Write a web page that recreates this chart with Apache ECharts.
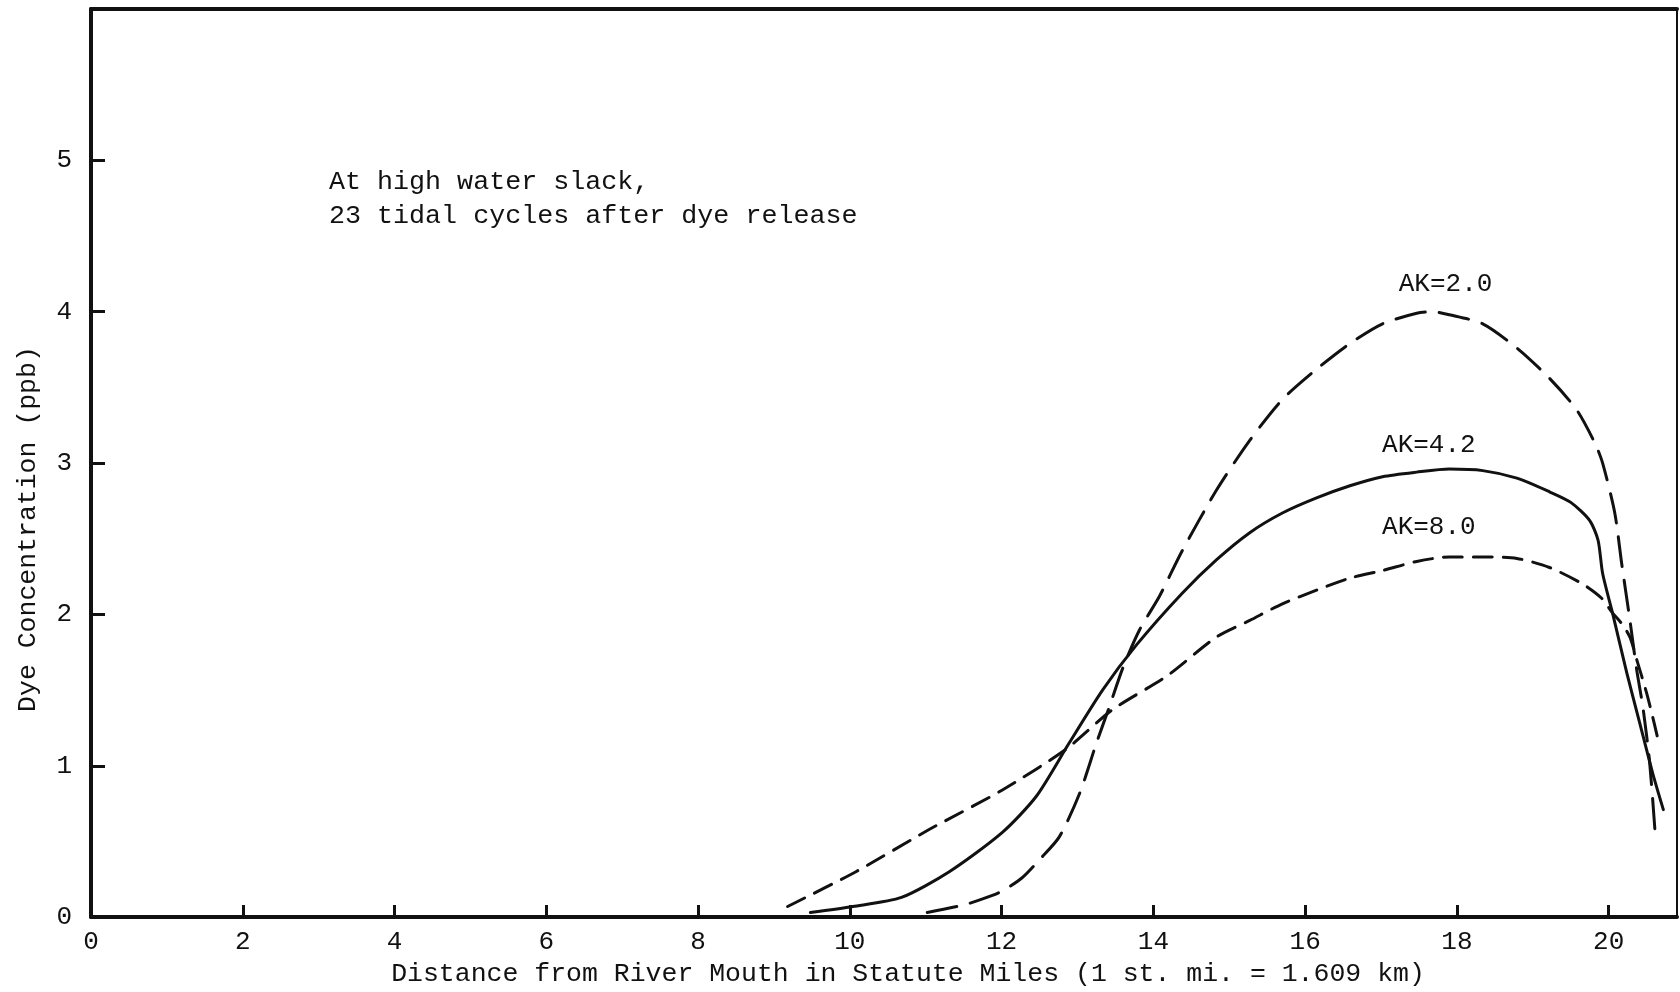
<!DOCTYPE html>
<html>
<head>
<meta charset="utf-8">
<script src="https://cdn.jsdelivr.net/npm/echarts@6/dist/echarts.min.js"></script>
<style>
  html, body { margin: 0; padding: 0; background: #ffffff; }
  #chart { width: 1680px; height: 992px; }
</style>
</head>
<body>
<div id="chart"></div>
<script>
// Distance along the river (statute miles) vs. dye concentration (ppb)
const xTickValues = [2, 4, 6, 8, 10, 12, 14, 16, 18, 20];
const xLabelValues = [0, 2, 4, 6, 8, 10, 12, 14, 16, 18, 20];
const yTickValues = [1, 2, 3, 4, 5];
const yLabelValues = [0, 1, 2, 3, 4, 5];

const seriesNames = ['AK=2.0', 'AK=4.2', 'AK=8.0'];

// AK = 2.0
const ak20 = [
  [11.02, 0.03], [11.5, 0.08], [11.75, 0.12], [12.0, 0.17], [12.27, 0.26],
  [12.5, 0.38], [12.76, 0.53], [13.03, 0.82], [13.25, 1.15], [13.42, 1.39],
  [13.6, 1.65], [13.82, 1.9], [14.08, 2.12], [14.38, 2.42], [14.83, 2.82],
  [15.27, 3.15], [15.7, 3.42], [16.15, 3.62], [16.59, 3.79], [17.02, 3.92],
  [17.47, 3.99], [17.68, 4.0], [17.9, 3.98], [18.34, 3.92], [18.79, 3.76],
  [19.22, 3.56], [19.58, 3.35], [19.82, 3.13], [19.92, 3.0], [20.08, 2.67],
  [20.17, 2.34], [20.28, 1.96], [20.37, 1.63], [20.45, 1.39], [20.54, 1.02],
  [20.62, 0.5]
];

// AK = 4.2
const ak42 = [
  [9.48, 0.03], [10.04, 0.07], [10.68, 0.13], [11.31, 0.3], [12.01, 0.56],
  [12.46, 0.8], [12.89, 1.15], [13.33, 1.5], [13.78, 1.8], [14.38, 2.14],
  [14.83, 2.36], [15.27, 2.54], [15.7, 2.67], [16.15, 2.77], [16.59, 2.85],
  [17.02, 2.91], [17.47, 2.94], [17.9, 2.96], [18.34, 2.95], [18.79, 2.9],
  [19.22, 2.81], [19.5, 2.74], [19.75, 2.62], [19.86, 2.49], [19.92, 2.27],
  [20.05, 2.01], [20.24, 1.61], [20.41, 1.28], [20.58, 0.95], [20.72, 0.71]
];

// AK = 8.0
const ak80 = [
  [9.18, 0.07], [10.08, 0.3], [11.05, 0.58], [12.01, 0.84], [12.85, 1.11],
  [13.46, 1.37], [14.17, 1.59], [14.83, 1.85], [15.27, 1.96], [15.7, 2.07],
  [16.15, 2.16], [16.59, 2.24], [17.02, 2.29], [17.47, 2.35], [17.9, 2.38],
  [18.34, 2.38], [18.79, 2.37], [19.22, 2.31], [19.66, 2.2], [19.9, 2.11],
  [20.05, 2.01], [20.17, 1.94], [20.28, 1.85], [20.37, 1.7], [20.5, 1.48],
  [20.6, 1.28], [20.67, 1.13]
];

const ink = '#111111';
const mono = '"Liberation Mono", "DejaVu Sans Mono", monospace';

const chart = echarts.init(document.getElementById('chart'), null, { renderer: 'canvas' });

function curve(name, data, dash) {
  return {
    name: name,
    type: 'line',
    data: data,
    showSymbol: false,
    smooth: 0.25,
    silent: true,
    lineStyle: { color: ink, width: 3, type: dash, cap: 'round', join: 'round' },
    z: 3
  };
}

chart.setOption({
  animation: false,
  backgroundColor: '#ffffff',
  textStyle: { fontFamily: mono, color: ink },
  grid: {
    left: 91, right: 3, top: 9, bottom: 73,
    show: true, borderColor: ink, borderWidth: 2, backgroundColor: 'transparent'
  },
  xAxis: [
    {
      type: 'value', min: 0, max: 20.9, interval: 2,
      name: 'Distance from River Mouth in Statute Miles (1 st. mi. = 1.609 km)',
      nameLocation: 'middle', nameGap: 39,
      nameTextStyle: { fontFamily: mono, fontSize: 26.5, color: ink, padding: [0, 0, 0, 48] },
      axisLine: { show: true, onZero: false, lineStyle: { color: ink, width: 4 } },
      axisTick: { show: true, inside: true, length: 12, customValues: xTickValues,
                  lineStyle: { color: ink, width: 3 } },
      axisLabel: { show: true, customValues: xLabelValues, fontFamily: mono,
                   fontSize: 26, color: ink, margin: 12 },
      splitLine: { show: false }
    },
    {
      type: 'value', min: 0, max: 20.9, position: 'top',
      axisLine: { show: true, onZero: false, lineStyle: { color: ink, width: 4 } },
      axisTick: { show: false }, axisLabel: { show: false }, splitLine: { show: false }
    }
  ],
  yAxis: {
    type: 'value', min: 0, max: 6, interval: 1,
    name: 'Dye Concentration (ppb)',
    nameLocation: 'middle', nameGap: 50, nameRotate: 90,
    nameTextStyle: { fontFamily: mono, fontSize: 26.5, color: ink, padding: [0, 132, 0, 0] },
    axisLine: { show: true, onZero: false, lineStyle: { color: ink, width: 4 } },
    axisTick: { show: true, inside: true, length: 14, customValues: yTickValues,
                lineStyle: { color: ink, width: 3 } },
    axisLabel: { show: true, customValues: yLabelValues, fontFamily: mono,
                 fontSize: 26, color: ink, margin: 19 },
    splitLine: { show: false }
  },
  series: [
    curve(seriesNames[0], ak20, [30, 14]),
    curve(seriesNames[1], ak42, 'solid'),
    curve(seriesNames[2], ak80, [19, 11])
  ]
});

// Curve labels placed in data space above each curve's crest
const labelAnchors = [[17.85, 4.18], [17.63, 3.12], [17.63, 2.58]];
const labelEls = seriesNames.map(function (name, i) {
  const p = chart.convertToPixel({ gridIndex: 0 }, labelAnchors[i]);
  return {
    type: 'text', x: p[0], y: p[1], silent: true, z: 10,
    style: { text: name, font: '26px ' + mono, fill: ink,
             textAlign: 'center', textVerticalAlign: 'middle' }
  };
});

chart.setOption({
  graphic: [
    {
      type: 'text', x: 329, y: 165, silent: true, z: 10,
      style: {
        text: 'At high water slack,\n23 tidal cycles after dye release',
        font: '26.7px ' + mono, lineHeight: 34, fill: ink
      }
    }
  ].concat(labelEls)
});
</script>
</body>
</html>
